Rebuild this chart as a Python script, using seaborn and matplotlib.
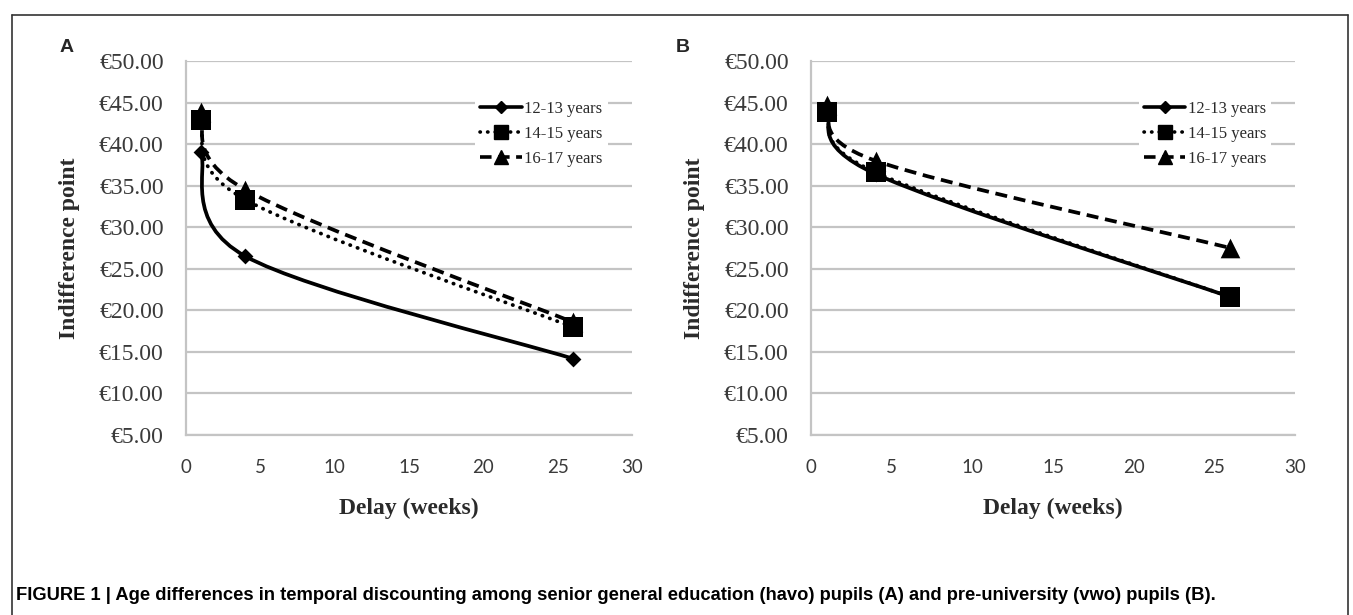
import numpy as np
import matplotlib
matplotlib.use('Agg')
import matplotlib.pyplot as plt
import seaborn as sns
from matplotlib.path import Path
from matplotlib.patches import PathPatch
from matplotlib.lines import Line2D
from matplotlib.ticker import FuncFormatter

# --- data ---
weeks = [1, 4, 26]
groups = ['12-13 years', '14-15 years', '16-17 years']

havo_12_13 = [39.0, 26.5, 14.2]
havo_14_15 = [42.9, 33.3, 18.0]
havo_16_17 = [43.9, 34.5, 18.6]

vwo_12_13 = [44.0, 36.4, 21.6]
vwo_14_15 = [43.9, 36.6, 21.6]
vwo_16_17 = [44.7, 38.0, 27.5]

x_ticks = [0, 5, 10, 15, 20, 25, 30]
y_ticks = [5, 10, 15, 20, 25, 30, 35, 40, 45, 50]

caption = ('FIGURE 1 | Age differences in temporal discounting among senior general '
           'education (havo) pupils (A) and pre-university (vwo) pupils (B).')

sns.set_style('white')
plt.rcParams['font.family'] = ['DejaVu Sans']

W, H = 1353, 615
fig = plt.figure(figsize=(W / 100, H / 100), dpi=100)

grid_col = '#c4c4c4'
text_col = '#3a3a3a'
serif = ['Liberation Serif', 'DejaVu Serif']

styles = [
    dict(ls='-', marker='D', s=65, ms=6),
    dict(ls=(0, (0.1, 2.0)), marker='s', s=210, ms=10),
    dict(ls=(0, (3.2, 1.8)), marker='^', s=200, ms=10),
]


def excel_smooth(ax, xs, ys):
    """Excel-style smoothed line: cubic Bezier with tangents taken in screen space"""
    pts = ax.transData.transform(np.column_stack([xs, ys]))
    padded = np.vstack([pts[0], pts, pts[-1]])
    tang = (padded[2:] - padded[:-2]) / 6.0
    verts = [pts[0]]
    codes = [Path.MOVETO]
    for i in range(len(pts) - 1):
        verts += [pts[i] + tang[i], pts[i + 1] - tang[i + 1], pts[i + 1]]
        codes += [Path.CURVE4] * 3
    verts = ax.transData.inverted().transform(np.array(verts))
    return Path(verts, codes)


def draw_panel(rect, series, letter, letter_x, legend_anchor):
    ax = fig.add_axes(rect)
    ax.set_xlim(0, 30)
    ax.set_ylim(5, 50)

    for vals, st in zip(series, styles):
        patch = PathPatch(excel_smooth(ax, weeks, vals), fill=False, edgecolor='black',
                          lw=2.7, linestyle=st['ls'], zorder=3)
        patch.set_capstyle('round' if st['marker'] == 's' else 'butt')
        ax.add_patch(patch)
        sns.scatterplot(x=weeks, y=vals, marker=st['marker'], s=st['s'], color='black',
                        edgecolor='black', linewidth=0, ax=ax, zorder=4, legend=False)

    ax.set_xticks(x_ticks)
    ax.set_yticks(y_ticks)
    ax.yaxis.set_major_formatter(FuncFormatter(lambda v, _: f'€{v:.2f}'))
    ax.grid(axis='y', color=grid_col, lw=1.6)
    ax.grid(axis='x', visible=False)
    for side in ['top', 'right']:
        ax.spines[side].set_visible(False)
    for side in ['left', 'bottom']:
        ax.spines[side].set_color(grid_col)
        ax.spines[side].set_linewidth(1.6)
    ax.tick_params(axis='y', length=5, width=1.6, color=grid_col, pad=11,
                   labelsize=17, labelcolor=text_col)
    ax.tick_params(axis='x', length=4, width=1.6, color=grid_col, pad=13,
                   labelsize=13.5, labelcolor=text_col)
    for t in ax.get_yticklabels():
        t.set_family(serif)
    for t in ax.get_xticklabels():
        t.set_family(['Lato', 'DejaVu Sans'])

    ax.set_xlabel('Delay (weeks)', family=serif, fontsize=17, fontweight='bold',
                  color='#2a2a2a', labelpad=16)
    ax.set_ylabel('Indifference point', family=serif, fontsize=17, fontweight='bold',
                  color='#2a2a2a', labelpad=14)

    handles = [Line2D([0], [0], color='black', lw=2.6, linestyle=st['ls'],
                      marker=st['marker'], markersize=st['ms'],
                      dash_capstyle='round' if st['marker'] == 's' else 'butt')
               for st in styles]
    leg = ax.legend(handles, groups, loc='upper left', bbox_to_anchor=legend_anchor,
                    frameon=True, framealpha=1, facecolor='white', edgecolor='none',
                    prop={'family': serif, 'size': 12}, handlelength=2.5,
                    handletextpad=0.15, labelspacing=0.55, borderpad=0.3)
    for t in leg.get_texts():
        t.set_color('#2a2a2a')

    fig.text(letter_x / W, 1 - 47 / H, letter, fontsize=14, fontweight='bold',
             family=['Liberation Sans', 'DejaVu Sans'], ha='center', va='center')
    return ax


bottom = 1 - 435 / H
height = (435 - 61) / H
draw_panel([186 / W, bottom, (632 - 186) / W, height],
           [havo_12_13, havo_14_15, havo_16_17], 'A', 67, (0.63, 0.93))
draw_panel([811 / W, bottom, (1295 - 811) / W, height],
           [vwo_12_13, vwo_14_15, vwo_16_17], 'B', 683, (0.66, 0.93))

# frame around the figure (bottom edge is cut off in the original)
frame_kw = dict(transform=fig.transFigure, color='#333333', lw=1.2)
fig.add_artist(Line2D([12 / W, 12 / W], [0, 1 - 15 / H], **frame_kw))
fig.add_artist(Line2D([12 / W, 1348 / W], [1 - 15 / H, 1 - 15 / H], **frame_kw))
fig.add_artist(Line2D([1348 / W, 1348 / W], [0, 1 - 15 / H], **frame_kw))

fig.text(16 / W, 1 - 595 / H, caption, fontsize=13.2, fontweight='bold',
         family=['Liberation Sans Narrow', 'Liberation Sans', 'DejaVu Sans'],
         ha='left', va='center', color='black')

plt.savefig('out.png', dpi=100)
